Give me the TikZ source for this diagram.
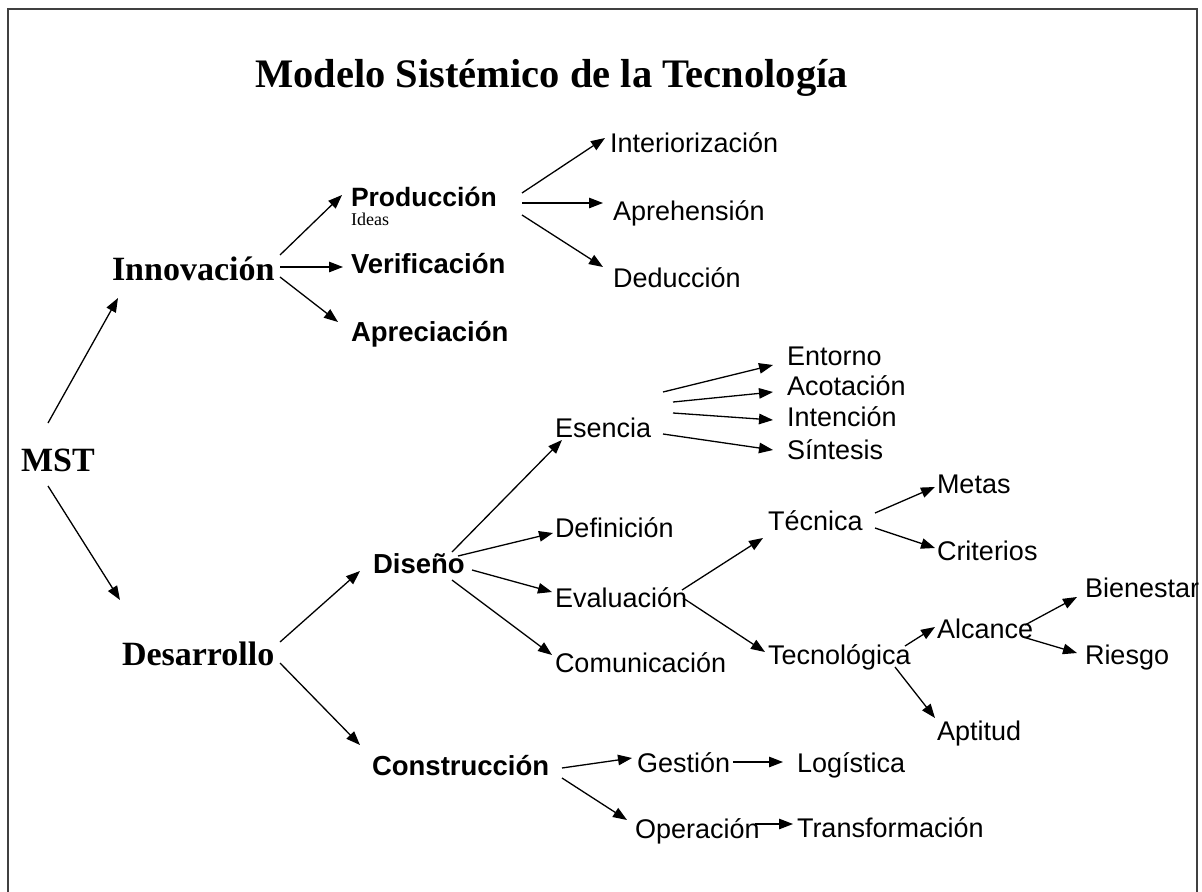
\documentclass[tikz,border=0pt]{standalone}
\usepackage{fontspec}
\setmainfont{Liberation Sans}
\newfontfamily\tnr{Liberation Serif}
\usetikzlibrary{arrows.meta}
\newcommand\linkarr[4]{\draw[arr] ([shift={(#2)}]#1.base west) -- ([shift={(#4)}]#3.base west);}
\begin{document}
\begin{tikzpicture}[x=1bp,y=-1bp,
 lbl/.style={anchor=base west,inner sep=0pt,outer sep=0pt,font=\fontsize{27bp}{30bp}\selectfont},
 blbl/.style={anchor=base west,inner sep=0pt,outer sep=0pt,font=\fontsize{27.5bp}{30bp}\selectfont\bfseries},
 slbl/.style={anchor=base west,inner sep=0pt,outer sep=0pt,font=\tnr\fontsize{34bp}{38bp}\selectfont\bfseries},
 arr/.style={-{Triangle[length=14bp,width=10.5bp]},line width=1.3bp}]
\useasboundingbox (0,0) rectangle (1202,892);
\fill[white] (0,0) rectangle (1202,892);
\draw[line width=2bp,black!75] (8,9) rectangle (1197,900);

\node[anchor=base west,inner sep=0pt,font=\tnr\fontsize{40.5bp}{46bp}\selectfont\bfseries] (title) at (255,87) {Modelo Sistémico de la Tecnología};

\node[slbl] (mst) at (21,471) {MST};
\node[slbl] (innov) at (112,280) {Innovación};
\node[slbl] (desar) at (122,665) {Desarrollo};

\node[anchor=base west,inner sep=0pt,outer sep=0pt,font=\fontsize{26.5bp}{28bp}\selectfont\bfseries] (prod) at (351,206) {Producción};
\node[anchor=base west,inner sep=0pt,font=\tnr\fontsize{18bp}{20bp}\selectfont] (ideas) at (351,225) {Ideas};
\node[blbl] (verif) at (351,273) {Verificación};
\node[blbl] (aprec) at (351,341) {Apreciación};
\node[lbl] (inter) at (610,152) {Interiorización};
\node[lbl] (apreh) at (613,220) {Aprehensión};
\node[lbl] (deduc) at (613,287) {Deducción};

\node[blbl] (diseno) at (373,573) {Diseño};
\node[blbl] (constr) at (372,775) {Construcción};
\node[lbl] (esen) at (555,437) {Esencia};
\node[lbl] (entor) at (787,365) {Entorno};
\node[lbl] (acot) at (787,395) {Acotación};
\node[lbl] (inten) at (787,426) {Intención};
\node[lbl] (sint) at (787,459) {Síntesis};
\node[lbl] (defin) at (555,537) {Definición};
\node[lbl] (evalu) at (555,607) {Evaluación};
\node[lbl] (comun) at (555,672) {Comunicación};
\node[lbl] (tecn) at (768,530) {Técnica};
\node[lbl] (tecno) at (768,664) {Tecnológica};
\node[lbl] (metas) at (937,493) {Metas};
\node[lbl] (crit) at (937,560) {Criterios};
\node[lbl] (alc) at (937,638) {Alcance};
\node[lbl] (apt) at (937,740) {Aptitud};
\node[lbl] (bien) at (1085,597) {Bienestar};
\node[lbl] (ries) at (1085,664) {Riesgo};
\node[lbl] (gest) at (637,772) {Gestión};
\node[lbl] (logi) at (797,772) {Logística};
\node[lbl] (oper) at (635,838) {Operación};
\node[lbl] (trans) at (797,837) {Transformación};

\linkarr{mst}{27,-48}{innov}{6,18}
\linkarr{mst}{27,15}{desar}{-2,-65}
\linkarr{innov}{168,-25}{prod}{-9,-11}
\linkarr{innov}{168,-13}{verif}{-8,-6}
\linkarr{innov}{168,-3}{aprec}{-13,-19}
\linkarr{prod}{171,-13}{inter}{-5,-14}
\linkarr{prod}{171,-3}{apreh}{-10,-17}
\linkarr{prod}{171,9}{deduc}{-10,-20}
\linkarr{desar}{158,-23}{diseno}{-13,-2}
\linkarr{desar}{158,-2}{constr}{-12,-30}
\linkarr{diseno}{79,-21}{esen}{7,3}
\linkarr{diseno}{85,-17}{defin}{-2,-4}
\linkarr{diseno}{99,-3}{evalu}{-3,-15}
\linkarr{diseno}{79,7}{comun}{-3,-17}
\linkarr{esen}{108,-45}{entor}{-14,0}
\linkarr{esen}{118,-35}{acot}{-14,-3}
\linkarr{esen}{118,-24}{inten}{-14,-6}
\linkarr{esen}{108,-3}{sint}{-14,-9}
\linkarr{evalu}{127,-17}{tecn}{-5,8}
\linkarr{evalu}{128,-9}{tecno}{-3,-12}
\linkarr{tecn}{107,-17}{metas}{-2,-6}
\linkarr{tecn}{107,-2}{crit}{-2,-12}
\linkarr{tecno}{137,-18}{alc}{-2,-11}
\linkarr{tecno}{127,3}{apt}{-2,-22}
\linkarr{alc}{88,-13}{bien}{-8,0}
\linkarr{alc}{86,-1}{ries}{-8,-11}
\linkarr{constr}{190,-7}{gest}{-5,-14}
\linkarr{constr}{190,3}{oper}{-8,-18}
\linkarr{gest}{96,-10}{logi}{-14,-10}
\linkarr{oper}{120,-14}{trans}{-4,-13}
\end{tikzpicture}
\end{document}
